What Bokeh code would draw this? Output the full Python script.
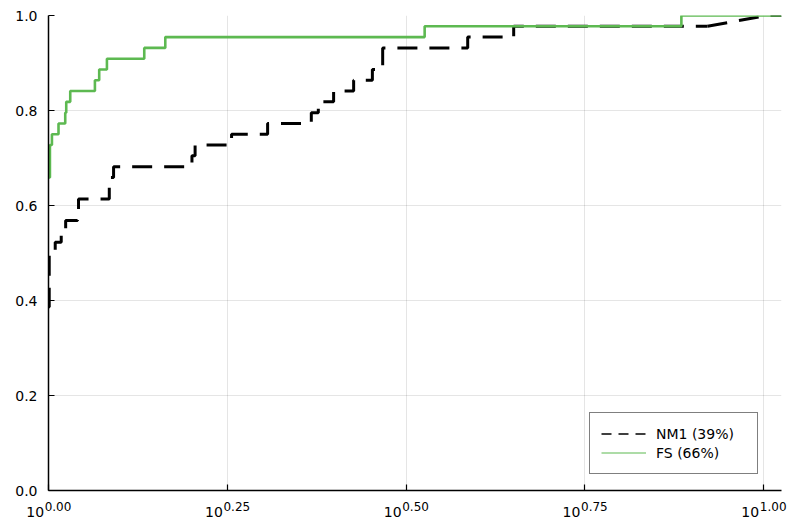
from bokeh.plotting import figure
from bokeh.models import Range1d, FixedTicker, Legend, LegendItem, LinearAxis
from bokeh.embed import file_html
from bokeh.resources import INLINE

# ---------------- data (log10 of performance ratio, number of solved problems out of N) ----------------
n_problems = 44

fs_x = [0.0, 0.002, 0.0048, 0.014, 0.0234, 0.0248, 0.0304, 0.0649, 0.0709, 0.0817,
        0.1339, 0.1633, 0.526, 0.885]
fs_n = [29, 32, 33, 34, 35, 36, 37, 38, 39, 40, 41, 42, 43, 44]

nm1_x = [0.0, 0.001, 0.0094, 0.0178, 0.024, 0.0406, 0.042, 0.085, 0.091, 0.2006,
         0.205, 0.256, 0.3064, 0.3675, 0.3773, 0.3987, 0.4267, 0.4529, 0.4673,
         0.5862, 0.6505, 0.9215]
nm1_n = [17, 22, 23, 24, 25, 26, 27, 29, 30, 31, 32, 33, 34, 35, 36, 37, 38, 39, 41,
         42, 43, 43]
# final linear piece of the NM1 curve
nm1_lin_x = [0.9215, 1.004]
nm1_lin_n = [43, 44]

x_max = 1.025

x_ticks = [0.0, 0.25, 0.5, 0.75, 1.0]
x_tick_base = ["10", "10", "10", "10", "10"]
x_tick_exps = ["0.00", "0.25", "0.50", "0.75", "1.00"]
y_ticks = [0.0, 0.2, 0.4, 0.6, 0.8, 1.0]
y_tick_labels = ["0.0", "0.2", "0.4", "0.6", "0.8", "1.0"]

legend_labels = ["NM1 (39%)", "FS (66%)"]

GREEN = "#5DB951"
FONT = "DejaVu Sans"
NBSP = "\u00a0"

# ---------------- figure ----------------
p = figure(width=789, height=527, output_backend="svg", toolbar_location=None,
           x_range=Range1d(0, x_max), y_range=Range1d(0, 1),
           min_border_left=48, min_border_right=8, min_border_top=15, min_border_bottom=37)
p.outline_line_color = None
p.background_fill_color = "white"
p.border_fill_color = "white"

xax = p.xaxis[0]
yax = p.yaxis[0]
for ax in (xax, yax):
    ax.axis_line_color = "black"
    ax.axis_line_width = 1.5
    ax.major_tick_line_color = "black"
    ax.major_tick_line_width = 1.2
    ax.major_tick_in = 6
    ax.major_tick_out = 0
    ax.minor_tick_line_color = None
    ax.major_label_text_font = FONT
    ax.major_label_text_color = "black"

# x axis: exponent part of the labels (superscript)
xax.ticker = FixedTicker(ticks=x_ticks)
xax.major_label_overrides = {t: NBSP * 5 + e for t, e in zip(x_ticks, x_tick_exps)}
xax.major_label_text_font_size = "12px"
xax.major_label_standoff = 9

# second axis: the "10" base of the labels
bax = LinearAxis(ticker=FixedTicker(ticks=x_ticks))
bax.major_label_overrides = {t: b + NBSP * 6 for t, b in zip(x_ticks, x_tick_base)}
bax.axis_line_color = None
bax.major_tick_line_color = None
bax.minor_tick_line_color = None
bax.major_tick_in = 0
bax.major_tick_out = 0
bax.major_label_text_font = FONT
bax.major_label_text_font_size = "14px"
bax.major_label_text_color = "black"
bax.major_label_standoff = -13
p.add_layout(bax, "below")

yax.ticker = FixedTicker(ticks=y_ticks)
yax.major_label_overrides = {t: l for t, l in zip(y_ticks, y_tick_labels)}
yax.major_label_text_font_size = "14px"
yax.major_label_standoff = 11

p.xgrid.ticker = FixedTicker(ticks=x_ticks)
p.ygrid.ticker = FixedTicker(ticks=y_ticks)
p.grid.grid_line_color = "black"
p.grid.grid_line_alpha = 0.1
p.grid.grid_line_width = 1

# ---------------- curves ----------------
nm1_y = [n / n_problems for n in nm1_n]
fs_y = [n / n_problems for n in fs_n]

p.step(nm1_x, nm1_y, mode="after", line_color="black", line_width=3, line_dash="20 12")
p.line(nm1_lin_x + [x_max], [n / n_problems for n in nm1_lin_n] + [nm1_lin_n[-1] / n_problems],
       line_color="black", line_width=3, line_dash="20 12")
p.step(fs_x + [x_max], fs_y + [fs_y[-1]], mode="after", line_color=GREEN, line_width=2.6)

# legend-only renderers (thin samples as in the reference)
nan = float("nan")
r_leg_nm1 = p.line([nan, nan], [nan, nan], line_color="black", line_width=1.5, line_dash="10 7")
r_leg_fs = p.line([nan, nan], [nan, nan], line_color=GREEN, line_width=1.2)

legend = Legend(items=[LegendItem(label=legend_labels[0], renderers=[r_leg_nm1]),
                       LegendItem(label=legend_labels[1], renderers=[r_leg_fs])],
                location=(541, 16))
legend.border_line_color = "black"
legend.border_line_width = 1
legend.background_fill_color = "white"
legend.background_fill_alpha = 1
legend.label_text_font = FONT
legend.label_text_font_size = "14px"
legend.label_text_color = "black"
legend.glyph_width = 45
legend.glyph_height = 19
legend.label_height = 19
legend.label_width = 90
legend.label_standoff = 10
legend.spacing = 0
legend.padding = 11
legend.margin = 0
p.add_layout(legend, "center")

open("out.html", "w").write(file_html(p, INLINE))
